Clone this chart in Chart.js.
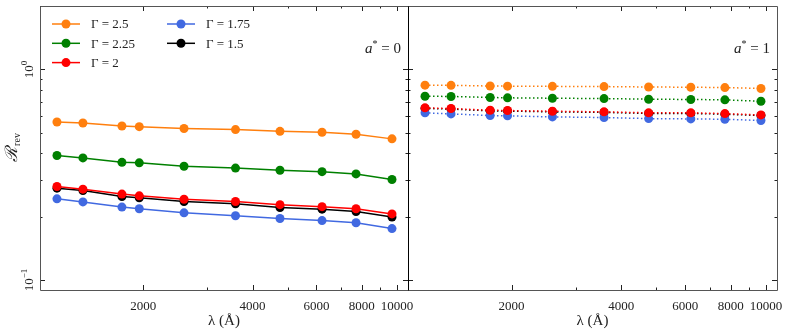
<!DOCTYPE html>
<html>
<head>
<meta charset="utf-8">
<script src="https://cdn.jsdelivr.net/npm/chart.js@4.4.0/dist/chart.umd.min.js"></script>
<style>
  body { margin: 0; background: #fff; }
  #wrap { position: relative; width: 789px; height: 334px; }
  #left { position: absolute; left: 0; top: 0; }
  #right { position: absolute; left: 400px; top: 0; }
</style>
</head>
<body>
<div id="wrap">
  <canvas id="left" width="420" height="334"></canvas>
  <canvas id="right" width="389" height="334"></canvas>
</div>
<script>
// wavelengths (Angstrom)
const wavelengths = [1157, 1364, 1747, 1950, 2590, 3590, 4760, 6215, 7710, 9685];
const gammaLabels = ['Γ = 2.5', 'Γ = 2.25', 'Γ = 2', 'Γ = 1.75', 'Γ = 1.5'];
const gammaColors = ['#ff7f0e', '#008000', '#ff0000', '#4169e1', '#000000'];

// a* = 0
const spin0_g250 = [0.563, 0.557, 0.539, 0.535, 0.524, 0.518, 0.508, 0.503, 0.492, 0.468];
const spin0_g225 = [0.390, 0.380, 0.362, 0.360, 0.347, 0.340, 0.332, 0.327, 0.319, 0.300];
const spin0_g200 = [0.278, 0.270, 0.256, 0.251, 0.242, 0.236, 0.228, 0.223, 0.218, 0.206];
const spin0_g175 = [0.243, 0.235, 0.222, 0.218, 0.2085, 0.202, 0.196, 0.1915, 0.187, 0.1755];
const spin0_g150 = [0.273, 0.266, 0.249, 0.246, 0.236, 0.230, 0.221, 0.217, 0.2115, 0.199];

// a* = 1
const spin1_g250 = [0.842, 0.840, 0.834, 0.833, 0.831, 0.829, 0.825, 0.823, 0.820, 0.812];
const spin1_g225 = [0.746, 0.744, 0.736, 0.733, 0.730, 0.727, 0.722, 0.720, 0.717, 0.706];
const spin1_g200 = [0.657, 0.652, 0.640, 0.638, 0.633, 0.629, 0.622, 0.622, 0.617, 0.608];
const spin1_g175 = [0.622, 0.615, 0.604, 0.602, 0.595, 0.591, 0.584, 0.582, 0.580, 0.572];
const spin1_g150 = [0.653, 0.648, 0.636, 0.634, 0.629, 0.625, 0.618, 0.618, 0.613, 0.604];

// axes
const xMajorTicks = [2000, 4000, 6000, 8000, 10000];
const xMinorTicks = [3000, 5000, 7000, 9000];
const yMajorTicks = [0.1, 1];
const yMajorExps = ['−1', '0'];
const yMinorTicks = [0.2, 0.3, 0.4, 0.5, 0.6, 0.7, 0.8, 0.9, 2];

const SERIF = "'Liberation Serif', 'DejaVu Serif', serif";

// legend slot positions (column, row)
const legendSlots = [[0, 0], [0, 1], [0, 2], [1, 0], [1, 1]];

const decor = {
    id: 'decor',
    afterDraw(chart, args, opts) {
        const {ctx, chartArea: a} = chart;
        const x = chart.scales.x, y = chart.scales.y;
        ctx.save();
        ctx.lineWidth = 1;
        ctx.strokeStyle = '#222';
        const seg = (x1, y1, x2, y2) => { ctx.beginPath(); ctx.moveTo(x1, y1); ctx.lineTo(x2, y2); ctx.stroke(); };

        // inward ticks on all four sides
        const xt = (vals, len) => vals.forEach(v => {
            const px = Math.round(x.getPixelForValue(v)) + 0.5;
            seg(px, a.bottom, px, a.bottom - len);
            seg(px, a.top, px, a.top + len);
        });
        const yt = (vals, len) => vals.forEach(v => {
            const py = Math.round(y.getPixelForValue(v)) + 0.5;
            seg(a.left, py, a.left + len, py);
            seg(a.right, py, a.right - len, py);
        });
        xt(xMajorTicks, 5); xt(xMinorTicks, 2.5);
        yt(yMajorTicks, 5); yt(yMinorTicks, 2.5);

        // frame
        ctx.strokeStyle = '#555';
        const L = a.left + 0.5, R = a.right + 0.5, T = a.top + 0.5, B = a.bottom + 0.5;
        seg(L, T, R, T); seg(L, B, R, B);
        ctx.strokeStyle = opts.leftColor; seg(L, T, L, B);
        ctx.strokeStyle = opts.rightColor; seg(R, T, R, B);

        // spin label
        ctx.fillStyle = '#222';
        ctx.textBaseline = 'middle';
        const fa = 'italic 15px ' + SERIF, fs = '10px ' + SERIF, fe = '15px ' + SERIF;
        const rest = ' = ' + opts.spin;
        ctx.font = fa; const wa = ctx.measureText('a').width;
        ctx.font = fs; const ws = ctx.measureText('*').width;
        ctx.font = fe; const we = ctx.measureText(rest).width;
        let sx = a.right - 7 - (wa + ws + we);
        const sy = 49;
        ctx.textAlign = 'left';
        ctx.font = fa; ctx.fillText('a', sx, sy); sx += wa;
        ctx.font = fs; ctx.fillText('*', sx, sy - 5); sx += ws;
        ctx.font = fe; ctx.fillText(rest, sx, sy);

        if (opts.yLabels) {
            // y tick labels, rotated
            yMajorTicks.forEach((v, i) => {
                const py = y.getPixelForValue(v);
                ctx.save();
                ctx.translate(30, py);
                ctx.rotate(-Math.PI / 2);
                ctx.font = '13px ' + SERIF;
                const wb = ctx.measureText('10').width;
                ctx.font = '9px ' + SERIF;
                const wx = ctx.measureText(yMajorExps[i]).width;
                const x0 = -(wb + wx) / 2;
                ctx.textAlign = 'left';
                ctx.font = '13px ' + SERIF; ctx.fillText('10', x0, 0);
                ctx.font = '9px ' + SERIF; ctx.fillText(yMajorExps[i], x0 + wb, -5);
                ctx.restore();
            });
            // y title
            ctx.save();
            ctx.translate(13, (a.top + a.bottom) / 2);
            ctx.rotate(-Math.PI / 2);
            ctx.font = 'italic 17px ' + SERIF;
            const wr = ctx.measureText('ℛ').width;
            ctx.font = '10px ' + SERIF;
            const wv = ctx.measureText('rev').width;
            const x0 = -(wr + wv) / 2;
            ctx.textAlign = 'left';
            ctx.font = 'italic 17px ' + SERIF; ctx.fillText('ℛ', x0, 0);
            ctx.font = '10px ' + SERIF; ctx.fillText('rev', x0 + wr + 1, 4);
            ctx.restore();
        }

        if (opts.legend) {
            chart.data.datasets.forEach((ds, i) => {
                const [col, row] = legendSlots[i];
                const lx = 52 + col * 115;
                const ly = 24 + row * 19.3;
                ctx.strokeStyle = ds.borderColor;
                ctx.lineWidth = 1.5;
                seg(lx, ly, lx + 28, ly);
                ctx.fillStyle = ds.borderColor;
                ctx.beginPath(); ctx.arc(lx + 14, ly, 4.5, 0, Math.PI * 2); ctx.fill();
                ctx.fillStyle = '#222';
                ctx.font = '13px ' + SERIF;
                ctx.textAlign = 'left';
                ctx.fillText(ds.label, lx + 39, ly + 1);
            });
        }
        ctx.restore();
    }
};

function makeSets(series, dash) {
    return series.map((vals, i) => ({
        label: gammaLabels[i],
        data: vals,
        borderColor: gammaColors[i],
        backgroundColor: gammaColors[i],
        borderWidth: 1.5,
        borderDash: dash,
        pointRadius: 4.5,
        pointBorderWidth: 0,
        pointBackgroundColor: gammaColors[i],
        tension: 0,
    }));
}

function makeChart(canvasId, series, dash, pad, decorOpts) {
    return new Chart(document.getElementById(canvasId).getContext('2d'), {
        type: 'line',
        data: {
            labels: wavelengths,
            datasets: makeSets(series, dash).map(d => ({...d, data: d.data.map((v, j) => ({x: wavelengths[j], y: v}))}))
        },
        options: {
            responsive: false,
            animation: false,
            devicePixelRatio: 1,
            layout: { padding: pad },
            plugins: {
                legend: { display: false },
                tooltip: { enabled: false },
                decor: decorOpts
            },
            scales: {
                x: {
                    type: 'logarithmic',
                    min: 1039,
                    max: 10720,
                    grid: { display: false },
                    border: { display: false },
                    afterBuildTicks: (scale) => { scale.ticks = xMajorTicks.map(v => ({value: v})); },
                    afterFit: (scale) => { scale.height = 44; },
                    ticks: {
                        autoSkip: false,
                        maxRotation: 0,
                        padding: 1,
                        color: '#222',
                        font: { family: SERIF, size: 13 },
                        callback: (v) => String(v)
                    },
                    title: {
                        display: true,
                        text: 'λ (Å)',
                        color: '#222',
                        font: { family: SERIF, size: 15 },
                        padding: { top: 0, bottom: 4 }
                    }
                },
                y: {
                    type: 'logarithmic',
                    min: 0.0897,
                    max: 2.0,
                    display: false
                }
            }
        },
        plugins: [decor]
    });
}

makeChart('left',
    [spin0_g250, spin0_g225, spin0_g200, spin0_g175, spin0_g150], [],
    { left: 40, right: 12, top: 6, bottom: 0 },
    { spin: '0', legend: true, yLabels: true, leftColor: '#555', rightColor: '#000' });

makeChart('right',
    [spin1_g250, spin1_g225, spin1_g200, spin1_g175, spin1_g150], [1.5, 2.5],
    { left: 8, right: 12, top: 6, bottom: 0 },
    { spin: '1', legend: false, yLabels: false, leftColor: '#000', rightColor: '#555' });
</script>
</body>
</html>
